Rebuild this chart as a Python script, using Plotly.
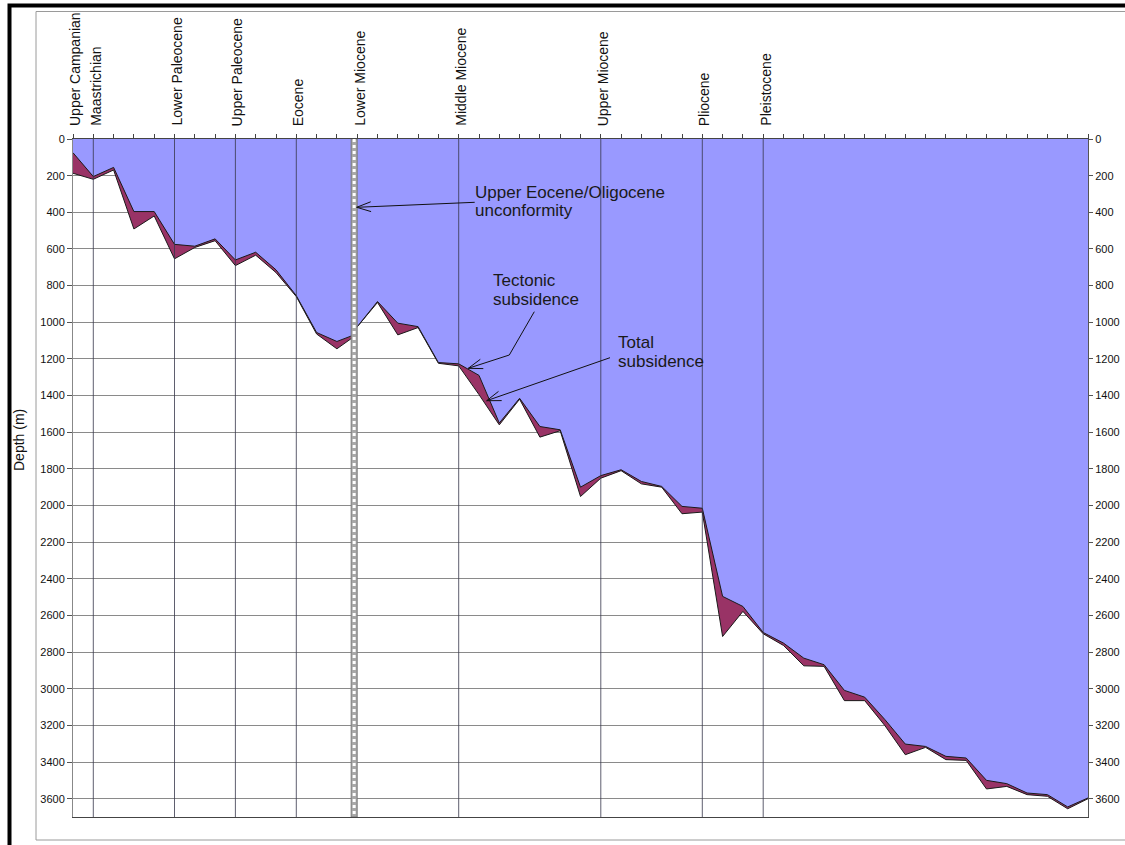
import numpy as np
import plotly.graph_objects as go

# Stratigraphic position (column index) of each depth pick
position = [0, 1, 2, 3, 4, 5, 6, 7, 8, 9, 10, 11, 12, 13, 13.85, 13.85,
            15, 16, 17, 18, 19, 20, 21, 22, 23, 24, 25, 26, 27, 28, 29, 30,
            31, 32, 33, 34, 35, 36, 37, 38, 39, 40, 41, 42, 43, 44, 45, 46,
            47, 48, 49, 50]

# Tectonic subsidence (m)
tectonic = [75, 205, 155, 396, 396, 575, 585, 545, 660, 618, 714, 855, 1056,
            1105, 1069, 1045, 887, 1005, 1024, 1220, 1227, 1290, 1550, 1415,
            1569, 1587, 1900, 1837, 1805, 1869, 1896, 2005, 2015, 2496, 2551,
            2693, 2751, 2833, 2869, 3009, 3046, 3169, 3302, 3315, 3369, 3378,
            3500, 3518, 3569, 3578, 3645, 3596]

# Total subsidence (m)
total = [187, 220, 169, 491, 420, 654, 592, 555, 691, 634, 729, 860, 1064,
         1145, 1078, 1045, 892, 1069, 1029, 1224, 1238, 1395, 1560, 1420,
         1627, 1592, 1951, 1851, 1810, 1882, 1900, 2045, 2036, 2715, 2578,
         2700, 2764, 2875, 2878, 3065, 3065, 3202, 3360, 3320, 3387, 3391,
         3547, 3533, 3578, 3587, 3655, 3600]

# Stage boundaries along the top of the section
stage_names = ["Upper Campanian", "Maastrichian", "Lower Paleocene",
               "Upper Paleocene", "Eocene", "Lower Miocene", "Middle Miocene",
               "Upper Miocene", "Pliocene", "Pleistocene"]
stage_pos = [0, 1, 5, 8, 11, 14, 19, 26, 31, 34]
unconformity_pos = 13.85

depth_ticks = list(range(0, 3601, 200))

W, H = 1125, 845
L, R, T, B = 73, 37, 139, 28
PW, PH = W - L - R, H - T - B
X_RANGE = [0, 50]
Y_RANGE = [3700, 0]


def px2x(px):
    return X_RANGE[0] + (px - L) / PW * (X_RANGE[1] - X_RANGE[0])


def py2y(py):
    return Y_RANGE[1] + (py - T) / PH * (Y_RANGE[0] - Y_RANGE[1])


def xpaper(px):
    return (px - L) / PW


def ypaper(py):
    return (H - B - py) / PH


def arrow_path(points, head_len=15, half_angle=19):
    """Polyline ending at (0,0) with an open arrow head, pixel offsets (y up)."""
    pts = [f"{p[0]:.1f},{p[1]:.1f}" for p in points]
    path = "M " + " L ".join(pts) + " L 0,0"
    d = np.array(points[-1], dtype=float)
    d /= np.linalg.norm(d)
    a = np.radians(half_angle)
    rot = lambda v, t: np.array([v[0] * np.cos(t) - v[1] * np.sin(t),
                                 v[0] * np.sin(t) + v[1] * np.cos(t)])
    h1 = rot(d, a) * head_len
    h2 = rot(d, -a) * head_len
    path += f" M {h1[0]:.1f},{h1[1]:.1f} L 0,0 L {h2[0]:.1f},{h2[1]:.1f}"
    return path


BLUE = "#9999FF"
MAROON = "#993366"
FONT = "Arial, Liberation Sans, sans-serif"

fig = go.Figure()

fig.add_trace(go.Scatter(
    x=position, y=total, mode="lines", fill="tozeroy",
    fillcolor=MAROON, line=dict(color="#1a1a1a", width=1),
    name="Total subsidence", hoverinfo="x+y"))
fig.add_trace(go.Scatter(
    x=position, y=tectonic, mode="lines", fill="tozeroy",
    fillcolor=BLUE, line=dict(color="#1a1a1a", width=1),
    name="Tectonic subsidence", hoverinfo="x+y"))
# carrier for the right-hand depth axis
fig.add_trace(go.Scatter(x=[None], y=[None], yaxis="y2", showlegend=False,
                         hoverinfo="skip"))

shapes = []
# stage boundary lines
for p in stage_pos[1:]:
    if p == 14:
        continue
    shapes.append(dict(type="line", xref="x", yref="y", x0=p, x1=p,
                       y0=0, y1=Y_RANGE[0], layer="above",
                       line=dict(color="rgba(55,55,75,0.8)", width=1)))
# unconformity column
shapes.append(dict(type="rect", xref="x", yref="y", xsizemode="pixel",
                   xanchor=unconformity_pos, x0=-3, x1=3, y0=0,
                   y1=Y_RANGE[0], layer="above", fillcolor="#a8a8a8",
                   line=dict(color="#7a7a7a", width=1)))
shapes.append(dict(type="line", xref="x", yref="y", x0=unconformity_pos,
                   x1=unconformity_pos, y0=0, y1=Y_RANGE[0], layer="above",
                   line=dict(color="white", width=3, dash="dot")))

# annotation arrows
arrows = [
    (px2x(356.7), py2y(207.3), [(118, 5)]),
    (px2x(468.3), py2y(368.3), [(66, 56.6), (41, 13.3)]),
    (px2x(486.7), py2y(400.7), [(123.3, 43)]),
]
for ax_, ay_, pts in arrows:
    shapes.append(dict(type="path", xref="x", yref="y", xsizemode="pixel",
                       ysizemode="pixel", xanchor=ax_, yanchor=ay_,
                       path=arrow_path(pts), layer="above",
                       line=dict(color="#111", width=1)))

# outer frames
shapes.append(dict(type="rect", xref="paper", yref="paper",
                   x0=xpaper(36), x1=xpaper(1140), y0=ypaper(11.5),
                   y1=ypaper(840), line=dict(color="#9a9a9a", width=1),
                   layer="below"))
shapes.append(dict(type="rect", xref="paper", yref="paper",
                   x0=xpaper(9.5), x1=xpaper(1160), y0=ypaper(5.5),
                   y1=ypaper(870), line=dict(color="black", width=4),
                   layer="above"))

annotations = []
for name, p in zip(stage_names, stage_pos):
    annotations.append(dict(text=name, x=p, xref="x", y=1, yref="paper",
                            textangle=-90, xanchor="center", yanchor="bottom",
                            xshift=2, yshift=11, showarrow=False,
                            font=dict(family=FONT, size=14, color="#111")))

notes = [
    ("Upper Eocene/Oligocene", 473, 198),
    ("unconformity", 473, 216.5),
    ("Tectonic", 491, 286),
    ("subsidence", 491, 305),
    ("Total", 616, 348.3),
    ("subsidence", 616, 367.3),
]
for text, lx, base in notes:
    annotations.append(dict(text=text, x=px2x(lx), y=py2y(base - 5.8),
                            xref="x", yref="y", xanchor="left",
                            yanchor="middle", showarrow=False,
                            font=dict(family=FONT, size=17, color="#1a1a1a")))

annotations.append(dict(text="Depth (m)", x=xpaper(19), y=ypaper(440),
                        xref="paper", yref="paper", textangle=-90,
                        showarrow=False, xanchor="center", yanchor="middle",
                        font=dict(family=FONT, size=14, color="#111")))

fig.update_layout(
    width=W, height=H, autosize=False,
    margin=dict(l=L, r=R, t=T, b=B, pad=0, autoexpand=False),
    paper_bgcolor="white", plot_bgcolor="white",
    showlegend=False,
    xaxis=dict(range=X_RANGE, side="top", showticklabels=False,
               ticks="outside", ticklen=4, tickcolor="#444", dtick=1,
               tick0=0, showgrid=False, zeroline=False, showline=True,
               linecolor="#444", linewidth=1, mirror=True, automargin=False),
    yaxis=dict(range=Y_RANGE, tickvals=depth_ticks, tickformat="d",
               ticks="outside", ticklen=5, tickcolor="#555",
               showgrid=True, gridcolor="#8a8a8a", gridwidth=1,
               zeroline=False, showline=True, linecolor="#888",
               linewidth=1, automargin=False,
               tickfont=dict(family=FONT, size=11, color="#111")),
    yaxis2=dict(range=Y_RANGE, tickvals=depth_ticks, tickformat="d",
                overlaying="y", side="right", ticks="outside", ticklen=4,
                tickcolor="#555", showgrid=False, zeroline=False,
                showline=True, linecolor="#555", linewidth=1,
                automargin=False,
                tickfont=dict(family=FONT, size=11, color="#111")),
    shapes=shapes,
    annotations=annotations,
)

fig.write_html("out.html")
